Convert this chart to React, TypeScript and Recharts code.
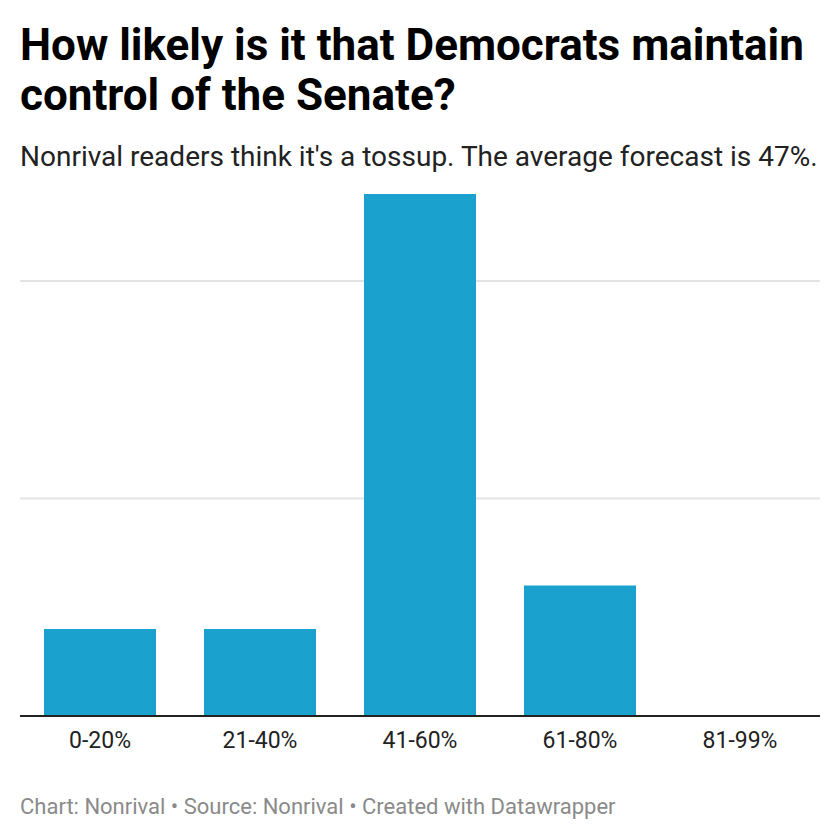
import React from "react";
import { BarChart, Bar, XAxis, YAxis, CartesianGrid } from "recharts";

const categories = ["0-20%", "21-40%", "41-60%", "61-80%", "81-99%"];
const counts = [4, 4, 24, 6, 0];
const yTicks = [0, 10, 20];

const data = categories.map((c, i) => ({ name: c, value: counts[i] }));

export default function App() {
  return (
    <div
      style={{
        position: "absolute",
        left: 0,
        top: 0,
        width: 840,
        height: 840,
        background: "#fff",
        fontFamily: "Roboto, sans-serif",
        overflow: "hidden",
      }}
    >
      <BarChart
        width={840}
        height={840}
        data={data}
        margin={{ top: 63.5, right: 20, bottom: 84, left: 20 }}
        barCategoryGap="15%"
        style={{ position: "absolute", left: 0, top: 0 }}
      >
        <CartesianGrid vertical={false} stroke="#e3e3e3" strokeWidth={2} />
        <YAxis
          domain={[0, 30]}
          ticks={yTicks}
          width={0}
          tick={{ fill: "none", fontSize: 1 }}
          axisLine={false}
          tickLine={false}
        />
        <XAxis
          dataKey="name"
          height={40}
          axisLine={{ stroke: "#222", strokeWidth: 2 }}
          tickLine={false}
          tick={{ fill: "#222", fontSize: 23, fontFamily: "Roboto" }}
          tickMargin={10}
        />
        <Bar dataKey="value" fill="#1aa1ce" isAnimationActive={false} />
      </BarChart>
      <div
        style={{
          position: "absolute",
          left: 0,
          top: 0,
          width: 840,
          paddingLeft: 20,
          paddingTop: 20,
          paddingBottom: 8,
          boxSizing: "border-box",
          fontSize: 44,
          lineHeight: "50px",
          fontWeight: 700,
          color: "#000",
          background: "#fff",
        }}
      >
        How likely is it that Democrats maintain control of the Senate?
      </div>
      <div
        style={{
          position: "absolute",
          left: 20,
          top: 140,
          fontSize: 28,
          lineHeight: "34px",
          color: "#222",
          whiteSpace: "nowrap",
        }}
      >
        Nonrival readers think it's a tossup. The average forecast is 47%.
      </div>
      <div
        style={{
          position: "absolute",
          left: 20,
          top: 794,
          fontSize: 22,
          lineHeight: "26px",
          color: "#8a8a8a",
          whiteSpace: "nowrap",
        }}
      >
        Chart: Nonrival • Source: Nonrival • Created with Datawrapper
      </div>
    </div>
  );
}
